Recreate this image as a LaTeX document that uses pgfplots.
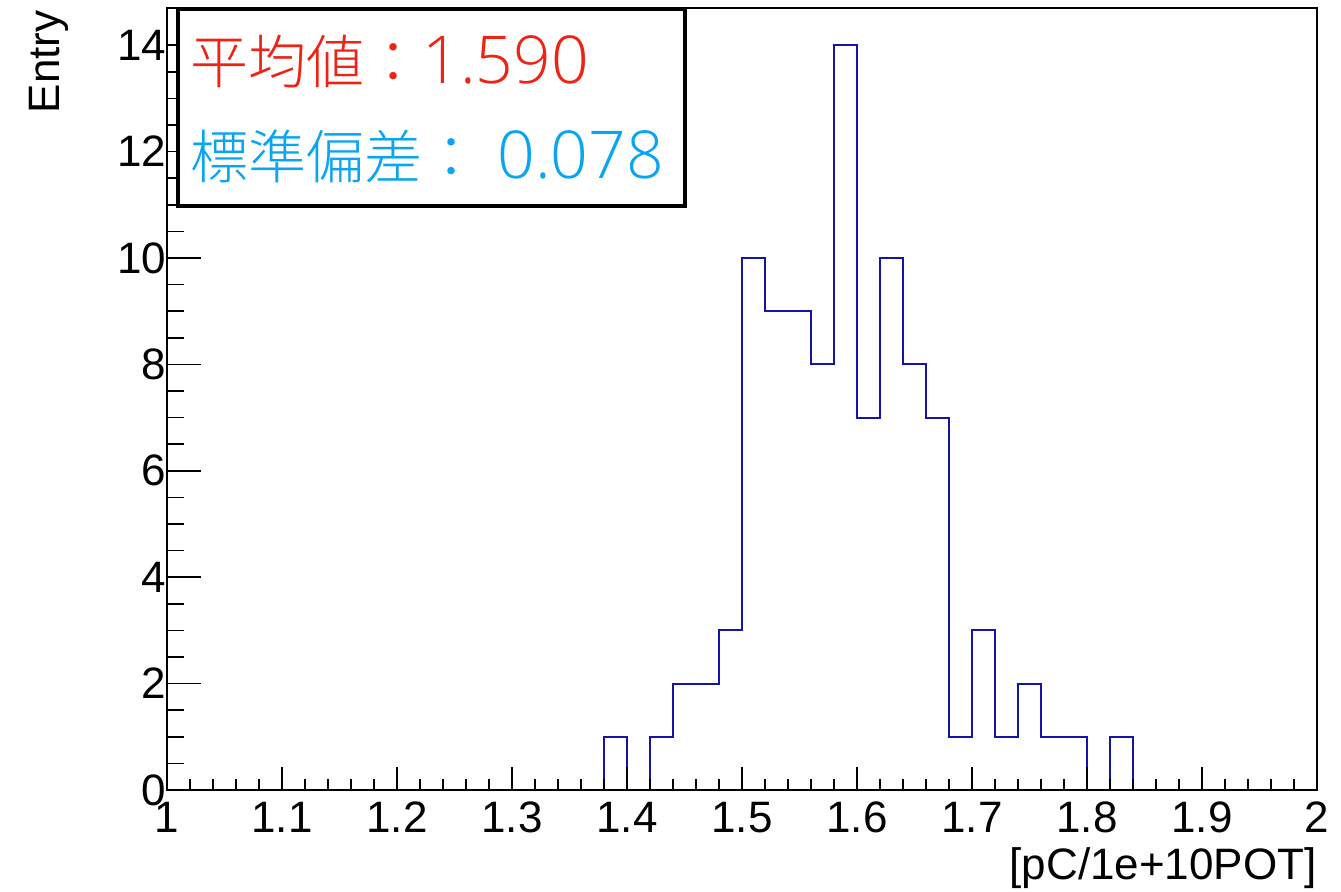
\documentclass[border=0pt]{standalone}
\usepackage{pgfplots}
\pgfplotsset{compat=1.18}
\usepackage{fontspec}
\setmainfont{Liberation Sans}
\newfontfamily\cjk{Noto Sans CJK JP Light}
\newfontfamily\thin{Open Sans Light}
\definecolor{histblue}{RGB}{20,20,170}
\definecolor{meanred}{RGB}{238,35,20}
\definecolor{sdblue}{RGB}{10,165,240}
\begin{document}
\begin{tikzpicture}
\pgfplotsset{
  common/.style={scale only axis, width=575pt, height=391pt,
    xmin=1, xmax=2, ymin=0, ymax=14.7,
    axis line style={line width=0.8pt},
    tick style={line width=0.8pt, black},
    tick align=inside,
    tick label style={font=\fontsize{22}{26}\selectfont},
    /pgf/number format/assume math mode=true,
  }
}
\begin{axis}[common, xtick=\empty, ytick={0,2,4,6,8,10,12,14},
  minor y tick num=3, ytick pos=left,
  major tick length=17pt, minor tick length=8.5pt,
  yticklabel style={xshift=3.2pt}]
\end{axis}
\begin{axis}[common, name=main, ytick=\empty,
  xtick={1,1.1,1.2,1.3,1.4,1.5,1.6,1.7,1.8,1.9,2},
  xticklabels={1,1.1,1.2,1.3,1.4,1.5,1.6,1.7,1.8,1.9,2},
  xticklabel style={yshift=-2.5pt},
  minor x tick num=4, xtick pos=left,
  major tick length=11.5pt, minor tick length=5.5pt, axis on top]
\addplot[const plot mark left, histblue, line width=1pt] coordinates {
(1.36,0)(1.38,1)(1.40,0)(1.42,1)(1.44,2)(1.46,2)(1.48,3)(1.50,10)(1.52,9)
(1.54,9)(1.56,8)(1.58,14)(1.60,7)(1.62,10)(1.64,8)(1.66,7)(1.68,1)(1.70,3)
(1.72,1)(1.74,2)(1.76,1)(1.78,1)(1.80,0)(1.82,1)(1.84,0)(1.86,0)};
\end{axis}
\draw[line width=2pt, fill=white] ([shift={(5.5pt,292pt)}]main.south west) rectangle ([shift={(259pt,390.5pt)}]main.south west);
\node[anchor=base west, inner sep=0, text=meanred] at ([shift={(11.5pt,353pt)}]main.south west)
  {\thin\fontsize{33}{38}\selectfont{\cjk\fontsize{29}{36}\selectfont 平均値：}1.590};
\node[anchor=base west, inner sep=0, text=sdblue] at ([shift={(11.5pt,305.5pt)}]main.south west)
  {\thin\fontsize{33}{38}\selectfont{\cjk\fontsize{29}{36}\selectfont 標準偏差：} 0.078};
\node[rotate=90, anchor=base east, inner sep=0, font=\fontsize{22}{26}\selectfont]
  at ([shift={(-53.5pt,390pt)}]main.south west) {Entry};
\node[anchor=base east, inner sep=0, font=\fontsize{22}{26}\selectfont]
  at ([shift={(0pt,-44.5pt)}]main.south east) {[pC/1e+10POT]};
\pgfresetboundingbox
\path[use as bounding box] ([shift={(-83.5pt,-50.5pt)}]main.south west) rectangle ([shift={(12pt,4pt)}]main.north east);
\end{tikzpicture}
\end{document}
